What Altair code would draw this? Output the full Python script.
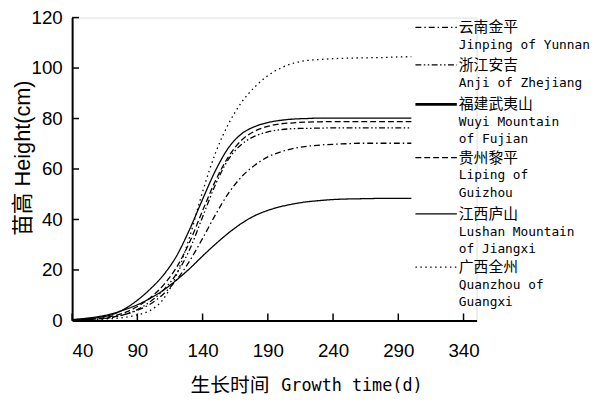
import altair as alt
import pandas as pd

# ---- data ----
days = [40, 50, 60, 70, 80, 90, 100, 110, 120, 130, 140, 150, 160, 170, 180,
        190, 200, 210, 220, 230, 240, 250, 260, 270, 280, 290, 300]

jinping = [0.1, 0.3, 0.6, 1.2, 2.3, 4.0, 6.5, 10.5, 16.0, 23.5, 32.5, 42.0, 50.5, 57.0,
           61.5, 64.8, 66.8, 68.2, 69.0, 69.5, 69.8, 70.0, 70.2, 70.2, 70.2, 70.2, 70.2]
anji = [0.1, 0.3, 0.6, 1.2, 2.3, 4.3, 7.5, 12.0, 18.5, 28.0, 41.0, 54.0, 64.0, 69.8,
        73.0, 74.7, 75.6, 76.0, 76.1, 76.2, 76.3, 76.3, 76.3, 76.3, 76.3, 76.3, 76.3]
wuyi = [0.3, 0.6, 1.2, 2.2, 4.5, 8.0, 12.5, 18.0, 25.5, 36.0, 48.0, 59.5, 68.5, 74.0,
        76.8, 78.4, 79.3, 79.8, 80.0, 80.2, 80.2, 80.2, 80.2, 80.2, 80.2, 80.2, 80.2]
liping = [0.2, 0.4, 0.8, 1.6, 3.0, 5.5, 9.0, 14.0, 21.0, 31.0, 43.5, 55.5, 65.0, 71.5,
          75.0, 76.9, 77.9, 78.3, 78.6, 78.7, 78.8, 78.8, 78.8, 78.8, 78.8, 78.8, 78.8]
lushan = [0.3, 0.8, 1.5, 2.6, 4.2, 6.2, 8.8, 12.0, 16.0, 20.5, 25.5, 30.3, 34.7, 38.5,
          41.5, 43.6, 45.1, 46.2, 47.0, 47.5, 47.9, 48.1, 48.2, 48.3, 48.4, 48.4, 48.4]
quanzhou = [0.1, 0.2, 0.4, 0.7, 1.2, 2.2, 4.0, 8.5, 18.0, 33.0, 51.0, 66.5, 78.0, 86.5,
            92.5, 97.0, 100.0, 102.0, 103.0, 103.4, 103.7, 103.9, 104.0, 104.1, 104.2, 104.4, 104.5]

series_names = ["云南金平", "浙江安吉", "福建武夷山", "贵州黎平", "江西庐山", "广西全州"]
series_en = [["Jinping of Yunnan"], ["Anji of Zhejiang"], ["Wuyi Mountain", "of Fujian"],
             ["Liping of", "Guizhou"], ["Lushan Mountain", "of Jiangxi"], ["Quanzhou of", "Guangxi"]]
series_values = [jinping, anji, wuyi, liping, lushan, quanzhou]

x_ticks = [40, 90, 140, 190, 240, 290, 340]
y_ticks = [0, 20, 40, 60, 80, 100, 120]

# ---- styles ----
dashes = [[6, 3, 1.5, 3], [6, 2.5, 1.5, 2.5, 1.5, 2.5], [1, 0], [6, 3], [1, 0], [1.5, 3.5]]
widths = [1.3, 1.3, 2.6, 1.3, 1.8, 1.5]
legend_widths = [1.2, 1.2, 2.6, 1.2, 1.2, 1.2]
legend_y = [10, 48, 88, 142, 199, 253]

W, H = 410, 307
tick_font = "Liberation Sans"
cjk_font = "Noto Sans CJK SC"
mono_font = "DejaVu Sans Mono"

rows = []
for name, vals in zip(series_names, series_values):
    for d, v in zip(days, vals):
        rows.append({"day": d, "height": v, "series": name})
df = pd.DataFrame(rows)

xscale = alt.Scale(domain=[40, 350], nice=False, zero=False)
yscale = alt.Scale(domain=[0, 120], nice=False)

x_axis = alt.Axis(values=x_ticks, tickSize=0, labelPadding=22, labelFontSize=19,
                  labelFont=tick_font, labelColor="black", grid=False,
                  domainColor="black", domainWidth=2, title=None)
y_axis = alt.Axis(values=y_ticks, tickSize=0, labelPadding=10, labelFontSize=19,
                  labelFont=tick_font, labelColor="black", grid=False,
                  domainColor="black", domainWidth=2,
                  title="苗高 Height(cm)", titleFont="Liberation Sans, Noto Sans CJK SC",
                  titleFontSize=22, titleFontWeight="normal", titleColor="black",
                  titleX=-50, titleY=142, titleAngle=270, titleAlign="center",
                  titleBaseline="middle")

lines = alt.Chart(df).mark_line(interpolate="monotone", color="black").encode(
    x=alt.X("day:Q", scale=xscale, axis=x_axis),
    y=alt.Y("height:Q", scale=yscale, axis=y_axis),
    detail="series:N",
    strokeDash=alt.StrokeDash("series:N", scale=alt.Scale(domain=series_names, range=dashes), legend=None),
    strokeWidth=alt.StrokeWidth("series:N", scale=alt.Scale(domain=series_names, range=widths), legend=None),
)

xt = alt.Chart(pd.DataFrame({"t": x_ticks})).mark_rule(color="black", strokeWidth=1.5).encode(
    x=alt.X("t:Q", scale=xscale), y=alt.value(H), y2=alt.value(H - 7))
yt = alt.Chart(pd.DataFrame({"t": y_ticks})).mark_rule(color="black", strokeWidth=1.5).encode(
    y=alt.Y("t:Q", scale=yscale), x=alt.value(0), x2=alt.value(7))

one = pd.DataFrame({"a": [0]})
layers = [lines, xt, yt]

# x-axis title: Chinese part + monospaced English part
layers.append(alt.Chart(one).mark_text(align="right", baseline="middle", font=cjk_font,
                                       fontSize=20, color="black").encode(
    x=alt.value(200), y=alt.value(374), text=alt.value("生长时间")))
layers.append(alt.Chart(one).mark_text(align="left", baseline="middle", font=mono_font,
                                       fontSize=17, color="black").encode(
    x=alt.value(212), y=alt.value(374), text=alt.value("Growth time(d)")))

for i, name in enumerate(series_names):
    layers.append(alt.Chart(one).mark_rule(color="black", strokeDash=dashes[i],
                                           strokeWidth=legend_widths[i]).encode(
        x=alt.value(348), x2=alt.value(390), y=alt.value(legend_y[i])))
    layers.append(alt.Chart(one).mark_text(align="left", baseline="middle", font=cjk_font,
                                           fontSize=15, color="black").encode(
        x=alt.value(392), y=alt.value(legend_y[i]), text=alt.value(name)))
    for j, line in enumerate(series_en[i]):
        layers.append(alt.Chart(one).mark_text(align="left", baseline="middle", font=mono_font,
                                               fontSize=13, color="black").encode(
            x=alt.value(392), y=alt.value(legend_y[i] + 18 + 17.5 * j), text=alt.value(line)))

chart = alt.layer(*layers).properties(
    width=W, height=H,
    autosize=alt.AutoSizeParams(type="none"),
    padding={"left": 65, "top": 7, "right": 117, "bottom": 81},
).configure_view(stroke=None).configure(background="white")

chart.save("out.html", embed_options={"renderer": "svg", "actions": False})
